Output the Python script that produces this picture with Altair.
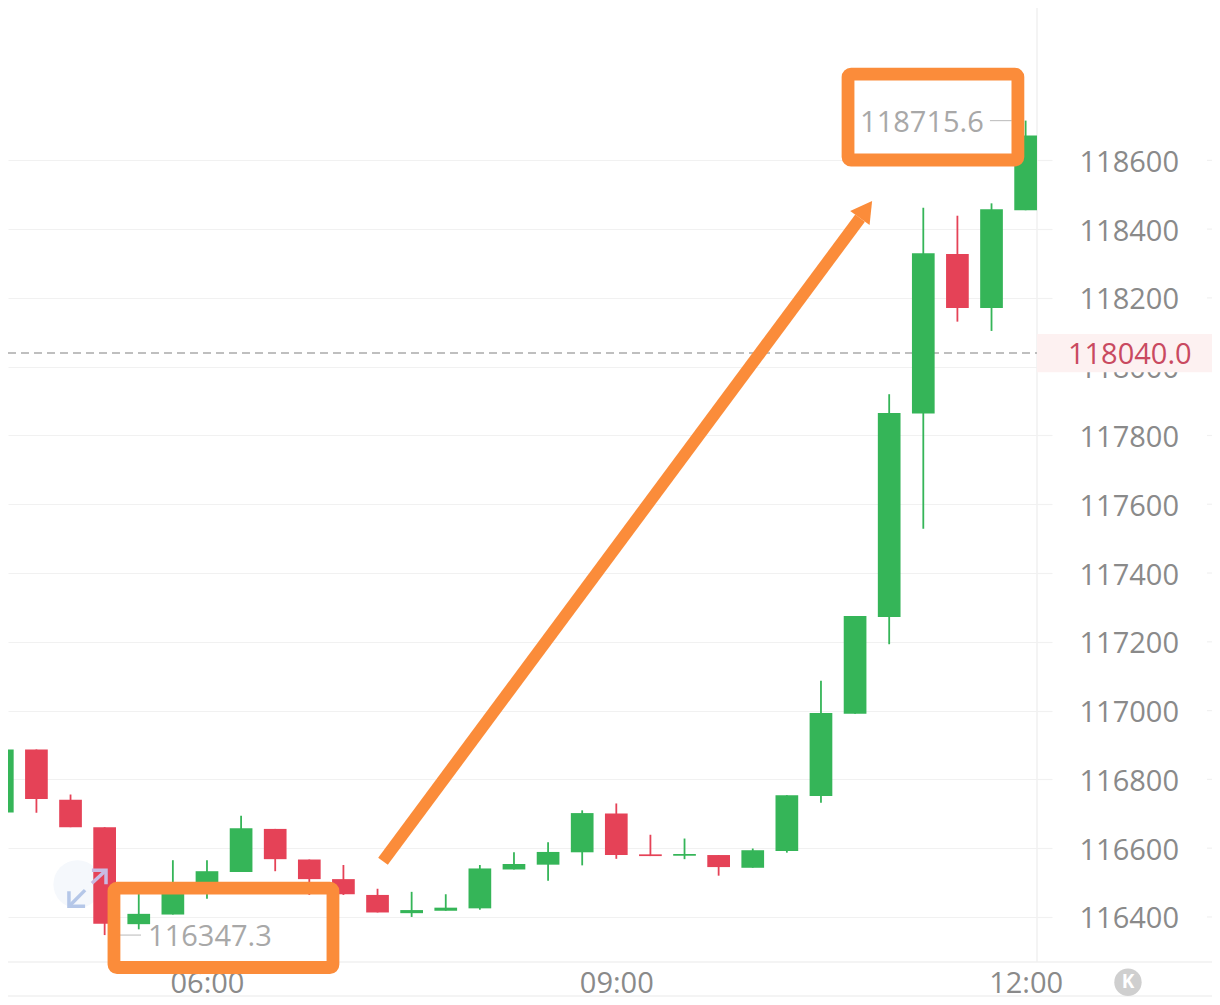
import altair as alt
import pandas as pd

# candle times, minutes after midnight (15-minute candles)
minutes = [270 + 15 * i for i in range(31)]
direction = ["up","down","down","down","up","up","up","up","down","down","down","down",
             "up","up","up","up","up","up","down","down","up","down","up","up",
             "up","up","up","up","down","up","up"]
high = [116987,116887,116756,116661,116469,116565,116565,116694,116656,116567,116551,116482,
        116473,116466,116551,116588,116617,116710,116730,116639,116628,116580,116599,116754,
        117087,117275,117920,118462,118439,118475,118715.6]
body_top = [116887,116887,116741,116661,116409,116495,116533,116658,116656,116567,116510,116464,
            116420,116427,116541,116554,116589,116702,116701,116582,116583,116580,116594,116754,
            116993,117275,117865,118330,118328,118458,118672]
body_bottom = [116704,116743,116661,116380,116379,116407,116495,116531,116568,116510,116466,116413,
               116411,116418,116425,116538,116552,116588,116580,116577,116578,116545,116543,116592,
               116752,116991,117272,117864,118171,118171,118455]
low = [116680,116703,116661,116347.3,116364,116407,116453,116531,116533,116464,116464,116413,
       116400,116418,116421,116538,116505,116550,116569,116577,116568,116520,116543,116587,
       116732,116991,117193,117529,118131,118104,118455]

y_ticks = [116400,116600,116800,117000,117200,117400,117600,117800,118000,118200,118400,118600]
x_ticks = [360, 540, 720]
x_labels = ["06:00", "09:00", "12:00"]

last_price = 118040.0
max_price = 118715.6
min_price = 116347.3

ORANGE = "#fb8c3a"
GREEN = "#35b558"
RED = "#e54257"
GRID = "#f1f1f1"
FONT = "Open Sans"

x_domain = [272.5, 725]
x_far = 805.5
y_domain = [116269, 119043]

label_expr = "[" + ",".join(f"'{s}'" for s in x_labels) + "][(datum.value-360)/180]"

xs = alt.Scale(domain=x_domain, nice=False, zero=False, padding=0)
ys = alt.Scale(domain=y_domain, nice=False, zero=False, padding=0)
x_axis = alt.Axis(
    values=x_ticks, labelExpr=label_expr, grid=False, ticks=False, domain=False,
    labelFont=FONT, labelFontSize=29, labelColor="#8a8a8a", labelPadding=7,
    labelOverlap=False, labelBound=False, labelFlush=False, title=None)
y_axis = alt.Axis(
    orient="right", values=y_ticks, format="d", grid=True, gridColor=GRID, gridWidth=1.2,
    domain=False, tickColor=GRID, tickSize=15, tickWidth=1.2, labelFont=FONT, labelFontSize=29,
    labelColor="#8a8a8a", labelPadding=27, labelOffset=2, labelOverlap=False, labelBound=False,
    labelFlush=False, title=None)
X = alt.X("x:Q", scale=xs, axis=x_axis)
X2 = alt.X2("x2:Q")
Y = alt.Y("y:Q", scale=ys, axis=y_axis)
Y2 = alt.Y2("y2:Q")

candles = pd.DataFrame({"t": minutes, "dir": direction, "high": high, "low": low,
                        "top": body_top, "bottom": body_bottom})
color = alt.Color("dir:N", legend=None,
                  scale=alt.Scale(domain=["up", "down"], range=[GREEN, RED]))


def hseg(x, x2, y):
    return pd.DataFrame({"x": [x], "x2": [x2], "y": [y]})


def pts(*p):
    return pd.DataFrame(p, columns=["x", "y"]).assign(o=range(len(p)))


def polyline(df, col, width):
    return alt.Chart(df).mark_line(color=col, strokeWidth=width, clip=False).encode(
        x=X, y=Y, order="o:O")


tick_right = alt.Chart(pd.DataFrame({"y": y_ticks, "x": 799.75, "x2": x_far})).mark_rule(
    color=GRID, strokeWidth=1.2, clip=False).encode(x=X, x2=X2, y=Y)

frame_v = alt.Chart(pd.DataFrame({"x": [725], "y": [y_domain[1]], "y2": [y_domain[0]]})).mark_rule(
    color=GRID, strokeWidth=1.5, clip=False).encode(x=X, y=Y, y2=Y2)
frame_h = alt.Chart(pd.DataFrame({"x": [272.5, 272.5], "x2": [x_far, x_far], "y": [116269, 116170]})).mark_rule(
    color=GRID, strokeWidth=1.5, clip=False).encode(x=X, x2=X2, y=Y)

last_line = alt.Chart(hseg(272.5, 725, last_price)).mark_rule(
    color="#ababab", strokeWidth=1.5, strokeDash=[8, 5]).encode(x=X, x2=X2, y=Y)

icon_bg = alt.Chart(pts((303, 116495))).mark_point(
    filled=True, opacity=1, size=2300, color="#f5f8fc", clip=False).encode(x=X, y=Y)

wicks = alt.Chart(candles).mark_rule(strokeWidth=1.8, clip=True).encode(
    x=alt.X("t:Q", scale=xs, axis=x_axis), y=alt.Y("high:Q", scale=ys, axis=y_axis), y2="low:Q", color=color)
bodies = alt.Chart(candles).mark_bar(size=22.7, clip=True).encode(
    x=alt.X("t:Q", scale=xs, axis=x_axis), y=alt.Y("top:Q", scale=ys, axis=y_axis), y2="bottom:Q", color=color)

icon_a = polyline(pts((306.4, 116478), (299.8, 116434)), "#b5c7e8", 3.5)
icon_b = polyline(pts((299.3, 116475), (299.3, 116431), (306.4, 116431)), "#b5c7e8", 3.5)
icon_c = polyline(pts((309.4, 116498), (315.6, 116536)), "#c9bbe3", 3.5)
icon_d = polyline(pts((309.4, 116536), (315.6, 116536), (315.6, 116495)), "#c9bbe3", 3.5)

# last price tag
tag = alt.Chart(pd.DataFrame({"x": [725], "x2": [x_far], "y": [118095], "y2": [117984]})).mark_rect(
    color="#fdf1f1", clip=False).encode(x=X, x2=X2, y=Y, y2=Y2)
tag_text = alt.Chart(pd.DataFrame({"x": [738.6], "y": [last_price], "s": [f"{last_price:.1f}"]})).mark_text(
    font=FONT, fontSize=29, align="left", baseline="middle", dy=2, color="#c94a60", clip=False
).encode(x=X, y=Y, text="s:N")

# high / low markers
hi_line = alt.Chart(hseg(704.3, 713.9, max_price)).mark_rule(color="#c4c4c4", strokeWidth=1.2, clip=False).encode(x=X, x2=X2, y=Y)
lo_line = alt.Chart(hseg(321.7, 331, min_price)).mark_rule(color="#c4c4c4", strokeWidth=1.2, clip=False).encode(x=X, x2=X2, y=Y)
marks_text = alt.Chart(pd.DataFrame({"x": [647.2, 334.1], "y": [max_price, min_price],
                                     "s": [f"{max_price:.1f}", f"{min_price:.1f}"]})).mark_text(
    font=FONT, fontSize=29, align="left", baseline="middle", dy=2, color="#a8a8a8", clip=False
).encode(x=X, y=Y, text="s:N")

# orange annotation
boxes = alt.Chart(pd.DataFrame({"x": [319.1, 641.9], "x2": [415.4, 716.6],
                                "y": [116484, 118851], "y2": [116253, 118601]})).mark_rect(
    filled=False, stroke=ORANGE, strokeWidth=12.8, cornerRadius=3, clip=False
).encode(x=X, x2=X2, y=Y, y2=Y2)
shaft = polyline(pts((437.4, 116562), (647.2, 118432)), ORANGE, 12)
head = alt.Chart(pts((649.8, 118457))).mark_point(
    shape="triangle-up", filled=True, opacity=1, size=576, angle=36, color=ORANGE, clip=False
).encode(x=X, y=Y)

# bottom button
btn = alt.Chart(pts((765, 116210))).mark_point(
    filled=True, opacity=1, size=750, color="#cfcfcf", clip=False).encode(x=X, y=Y)
btn_text = alt.Chart(pd.DataFrame({"x": [765], "y": [116210], "s": ["K"]})).mark_text(
    font=FONT, fontSize=19, fontWeight="bold", align="center", baseline="middle", color="#ffffff", clip=False
).encode(x=X, y=Y, text="s:N")

chart = alt.layer(
    tick_right, frame_v, frame_h, last_line, icon_bg, wicks, bodies,
    icon_a, icon_b, icon_c, icon_d, tag, tag_text, hi_line, lo_line, marks_text,
    boxes, shaft, head, btn, btn_text,
).properties(
    width=1029, height=954,
    padding={"left": 0, "top": 0, "right": 175, "bottom": 35},
    autosize=alt.AutoSizeParams(type="none"),
    background="#ffffff",
).configure_view(stroke=None)

chart.save("out.html", embed_options={"renderer": "svg", "actions": False})
